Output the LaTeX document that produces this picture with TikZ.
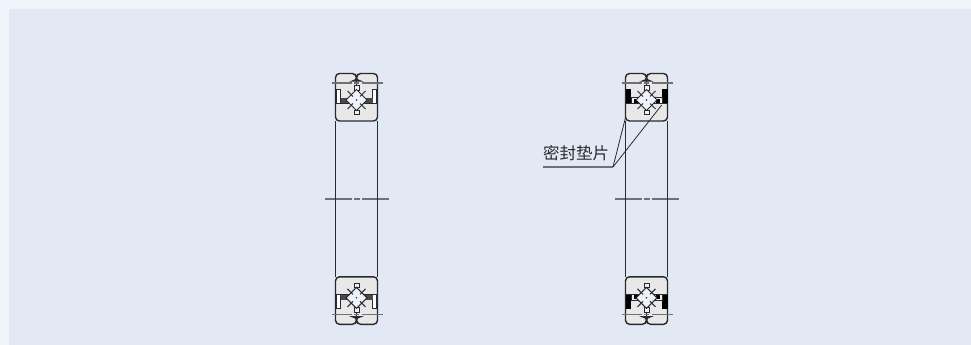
\documentclass[tikz,border=0pt]{standalone}
\usepackage{fontspec}
\newfontfamily\cjk{Noto Sans CJK SC}
\definecolor{pagebg}{HTML}{F0F5FB}
\definecolor{panelbg}{HTML}{E2E8F4}
\definecolor{ringbg}{HTML}{E8E8E8}
\definecolor{ballbg}{HTML}{EEF3FB}
\definecolor{inkc}{HTML}{2A2A2E}
\definecolor{axisc}{HTML}{6E7278}
\tikzset{
	outline/.style={draw=inkc,line width=1.4pt},
	tubeline/.style={draw=inkc,line width=1.9pt},
	thinline/.style={draw=inkc,line width=1pt},
	axisline/.style={draw=axisc,line width=1.1pt},
	leader/.style={draw=inkc,line width=0.8pt},
}
\newcommand{\ringbody}{
	\path[outline,fill=ringbg,rounded corners=4pt] (-21,21) -- (-21,-26.5) -- (-0.2,-26.5) -- (-0.2,-19) -- (0.2,-19) -- (0.2,-26.5) -- (21,-26.5) -- (21,21) -- cycle;
	\path[thinline] (0,-22) -- (0,-12);
	\path[axisline] (-25,-17) -- (-4.5,-17) (-2.5,-17) -- (2.5,-17) (5,-17) -- (26,-17);
	\path[thinline,fill=ballbg] (-2.5,-14.5) rectangle (2.5,-10);
	\path[thinline,fill=ballbg] (-2.5,10) rectangle (2.5,14.5);
}
\newcommand{\ballpart}{
	\path[thinline,fill=ballbg] (0,-10.5) -- (10.5,0) -- (0,10.5) -- (-10.5,0) -- cycle;
	\path[thinline] (-9,-9) -- (-3.5,-3.5) (3.5,3.5) -- (9,9) (9,-9) -- (3.5,-3.5) (-3.5,3.5) -- (-9,9);
	\fill[inkc] (0,0) circle (0.9);
}
\newcommand{\sectplain}{
	\ringbody
	\path[thinline,fill=white] (-20.2,-11) rectangle (-16,3);
	\path[thinline,fill=white] (16,-11) rectangle (20.2,3);
	\path[thinline] (-21,-11) -- (-16,-11) (16,-11) -- (21,-11);
	\fill[inkc!85] (-16,-2.5) rectangle (-8,3);
	\fill[inkc!85] (8,-2.5) rectangle (16,3);
	\path[thinline] (-21,3.2) -- (-7,3.2) (7,3.2) -- (21,3.2);
	\ballpart
}
\newcommand{\sectseal}{
	\ringbody
	\fill[black] (-21,-11) -- (-15.5,-11) -- (-15.5,3.5) -- (-21,3.5) -- cycle;
	\fill[black] (21,-11) -- (15.5,-11) -- (15.5,3.5) -- (21,3.5) -- cycle;
	\path[thinline,fill=ballbg] (-15.5,-3) -- (-8,-3) -- (-8,3.2) -- (-15.5,3.2) -- cycle;
	\path[thinline,fill=ballbg] (15.5,-3) -- (8,-3) -- (8,3.2) -- (15.5,3.2) -- cycle;
	\fill[black] (-13,-1) -- (-9,-1) -- (-9,3.2) -- (-13,3.2) -- cycle;
	\fill[black] (13,-1) -- (9,-1) -- (9,3.2) -- (13,3.2) -- cycle;
	\path[thinline] (-21,3.2) -- (-7,3.2) (7,3.2) -- (21,3.2);
	\ballpart
}
\begin{document}
\begin{tikzpicture}[x=1pt,y=-1pt]
	% background
	\path[use as bounding box,fill=pagebg] (0,0) rectangle (971,345);
	\fill[panelbg] (9,9) rectangle (971,345);

	% plain bearing
	\begin{scope}[shift={(356.5,100)}]
	\sectplain
	\end{scope}
	\begin{scope}[shift={(356.5,297.8)},yscale=-1]
	\sectplain
	\end{scope}
	\draw[axisline] (325,199) -- (352,199) (354,199) -- (360,199) (362,199) -- (389,199);
	\draw[tubeline] (335.5,121) -- (335.5,277);
	\draw[tubeline] (377.5,121) -- (377.5,277);

	% sealed bearing
	\begin{scope}[shift={(646.5,100)}]
	\sectseal
	\end{scope}
	\begin{scope}[shift={(646.5,297.8)},yscale=-1]
	\sectseal
	\end{scope}
	\draw[axisline] (615,199) -- (642,199) (644,199) -- (650,199) (652,199) -- (679,199);
	\draw[tubeline] (625.5,121) -- (625.5,277);
	\draw[tubeline] (667.5,121) -- (667.5,277);

	% label
	\node[text=inkc,font=\cjk\fontsize{16.5}{16.5}\selectfont,inner sep=0pt] (gasket) at (576,153) {密封垫片};
	\coordinate (linestart) at (543,167);
	\coordinate (lineapex) at (613,167);
	\coordinate (sealleft) at (625.7,116.7);
	\coordinate (sealright) at (661.7,105);
	\draw[axisline] (linestart) -- (lineapex);
	\draw[leader] (lineapex) -- (sealleft);
	\draw[leader] (lineapex) -- (sealright);
\end{tikzpicture}
\end{document}
